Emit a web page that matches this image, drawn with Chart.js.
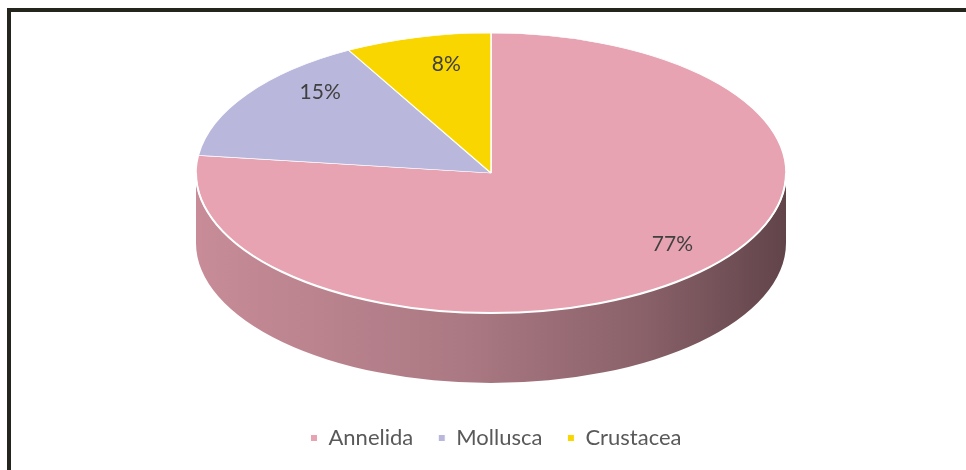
<!DOCTYPE html>
<html>
<head>
<meta charset="utf-8">
<script src="https://cdn.jsdelivr.net/npm/chart.js@4.4.1/dist/chart.umd.min.js"></script>
<style>
    html, body { margin: 0; padding: 0; background: #fff; }
    #wrap { position: relative; width: 966px; height: 470px; }
    #moldura { position: absolute; left: 7px; top: 8px; right: 0; bottom: 0;
        border-left: 4px solid #24251d; border-top: 4px solid #24251d; pointer-events: none; }
    canvas { position: absolute; left: 0; top: 0; }
</style>
</head>
<body>
<div id="wrap">
    <canvas id="grafico" width="966" height="470"></canvas>
    <div id="moldura"></div>
</div>
<script>
const categorias = ['Annelida', 'Mollusca', 'Crustacea'];
const percentuais = [77, 15, 8];
const cores = ['#e7a3b1', '#b9b8dc', '#f9d600'];

const fonte = 'Lato, "Open Sans", sans-serif';

function escurecer(hex, f) {
    const n = parseInt(hex.slice(1), 16);
    const r = Math.round(((n >> 16) & 255) * f);
    const g = Math.round(((n >> 8) & 255) * f);
    const b = Math.round((n & 255) * f);
    return `rgb(${r},${g},${b})`;
}

// Plugin que desenha a pizza "3D": achata as fatias e desenha a lateral
const pizza3d = {
    id: 'pizza3d',
    beforeDatasetsDraw(chart, args, opts) {
        const ctx = chart.ctx;
        const arcos = chart.getDatasetMeta(0).data;
        if (!arcos.length) return;
        const { cx, cy, rx, ry, profundidade } = opts;

        // lateral visível (metade da frente)
        arcos.forEach((arco, i) => {
            const cor = cores[i];
            const grad = ctx.createLinearGradient(cx - rx, 0, cx + rx, 0);
            grad.addColorStop(0, escurecer(cor, 0.86));
            grad.addColorStop(0.45, escurecer(cor, 0.74));
            grad.addColorStop(0.75, escurecer(cor, 0.6));
            grad.addColorStop(1, escurecer(cor, 0.42));
            for (let k = -1; k <= 1; k++) {
                const lo = Math.max(arco.startAngle, 2 * Math.PI * k);
                const hi = Math.min(arco.endAngle, 2 * Math.PI * k + Math.PI);
                if (hi <= lo) continue;
                ctx.save();
                ctx.beginPath();
                ctx.ellipse(cx, cy, rx, ry, 0, lo, hi);
                ctx.ellipse(cx, cy + profundidade, rx, ry, 0, hi, lo, true);
                ctx.closePath();
                ctx.fillStyle = grad;
                ctx.fill();
                ctx.restore();
            }
        });

        // achatar o topo
        const R = arcos[0].outerRadius;
        ctx.save();
        ctx.translate(cx, cy);
        ctx.scale(rx / R, ry / R);
        ctx.translate(-arcos[0].x, -arcos[0].y);
    },
    afterDatasetsDraw(chart, args, opts) {
        const ctx = chart.ctx;
        const arcos = chart.getDatasetMeta(0).data;
        if (!arcos.length) return;
        ctx.restore();
        const { cx, cy, rx, ry } = opts;

        // borda branca da frente
        ctx.save();
        ctx.beginPath();
        ctx.ellipse(cx, cy, rx, ry, 0, 0, Math.PI);
        ctx.strokeStyle = '#ffffff';
        ctx.lineWidth = 2;
        ctx.stroke();
        ctx.restore();

        // rótulos
        const total = percentuais.reduce((a, b) => a + b, 0);
        ctx.save();
        ctx.font = '21px ' + fonte;
        ctx.fillStyle = '#404040';
        ctx.textAlign = 'center';
        ctx.textBaseline = 'middle';
        arcos.forEach((arco, i) => {
            const meio = (arco.startAngle + arco.endAngle) / 2;
            const f = opts.raioRotulo[i];
            const x = cx + f * rx * Math.cos(meio);
            const y = cy + opts.deslocRotulo + f * ry * Math.sin(meio);
            ctx.fillText(Math.round(percentuais[i] / total * 100) + '%', x, y);
        });
        ctx.restore();
    }
};

new Chart(document.getElementById('grafico'), {
    type: 'pie',
    data: {
        labels: categorias,
        datasets: [{
            data: percentuais,
            backgroundColor: cores,
            borderColor: '#ffffff',
            borderWidth: 1
        }]
    },
    options: {
        responsive: false,
        animation: false,
        events: [],
        layout: { padding: { left: 26, bottom: 11 } },
        plugins: {
            tooltip: { enabled: false },
            legend: {
                position: 'bottom',
                labels: {
                    boxWidth: 7,
                    boxHeight: 7,
                    padding: 25,
                    color: '#595959',
                    font: { family: fonte, size: 22 }
                }
            },
            pizza3d: {
                cx: 491, cy: 173, rx: 295, ry: 140, profundidade: 70,
                raioRotulo: [0.93, 0.7, 0.61],
                deslocRotulo: -26
            }
        }
    },
    plugins: [pizza3d]
});
</script>
</body>
</html>
